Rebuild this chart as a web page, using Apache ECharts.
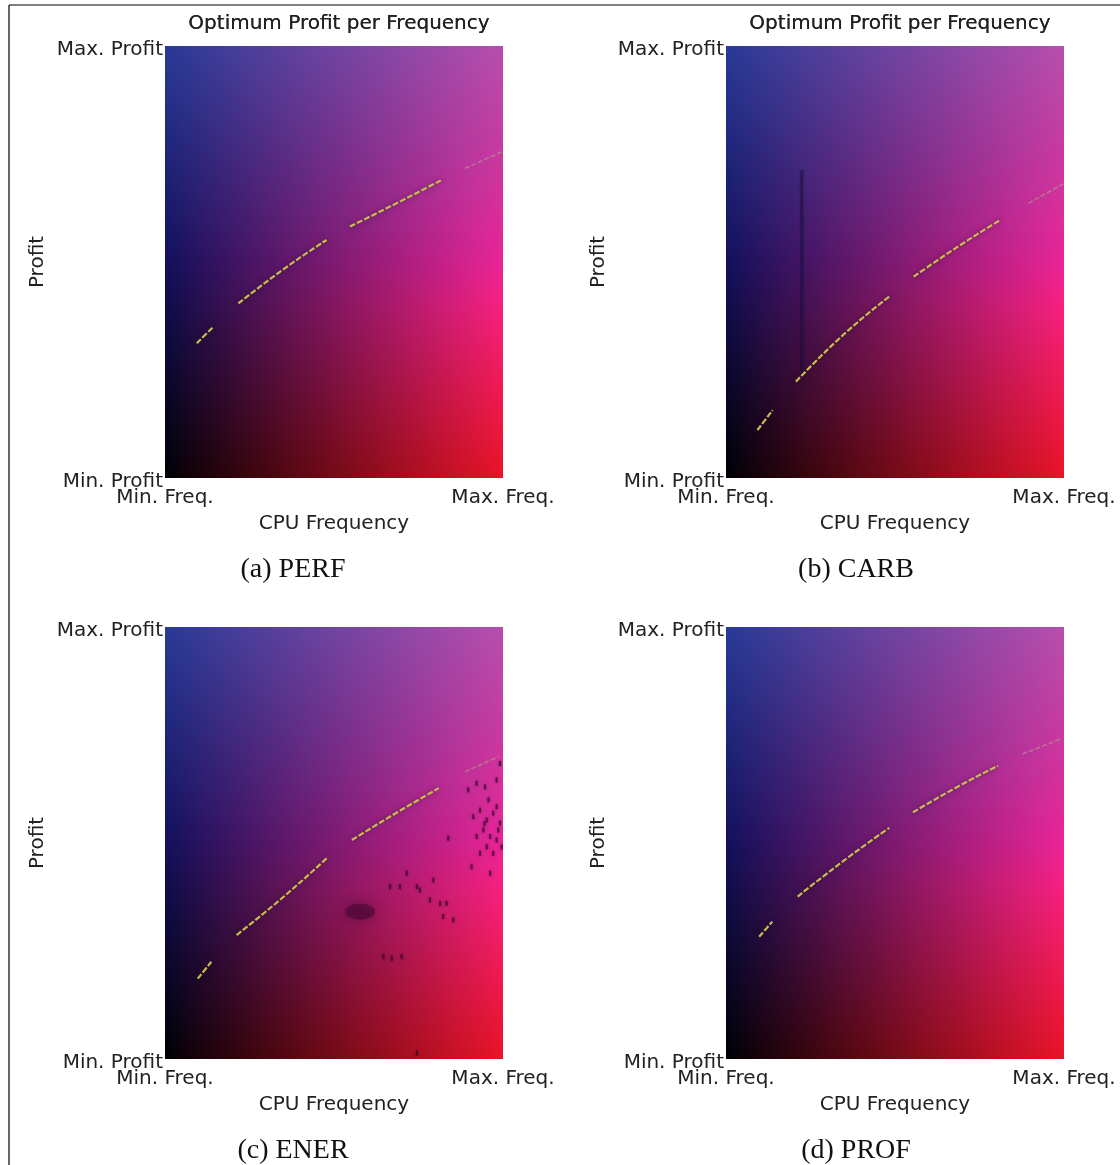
<!DOCTYPE html>
<html><head><meta charset="utf-8">
<script src="https://cdn.jsdelivr.net/npm/echarts@6/dist/echarts.min.js"></script>
<style>html,body{margin:0;padding:0;background:#fff}#c{width:1120px;height:1165px}</style>
</head><body><div id="c"></div>
<script>
// ---------- data ----------
const panelTitle = 'Optimum Profit per Frequency';
const captions = ['(a) PERF', '(b) CARB', '(c) ENER', '(d) PROF'];
const xTickLabels = ['Min. Freq.', 'Max. Freq.'];
const yTickLabels = ['Min. Profit', 'Max. Profit'];
const xAxisName = 'CPU Frequency';
const yAxisName = 'Profit';
const axisRange = [0, 1];

// optimum-profit curve per panel: visible segments ([freq, profit], normalised); last segment is faint
const perfSegments = [
  [[0.094, 0.312], [0.143, 0.350]],
  [[0.217, 0.404], [0.350, 0.483], [0.478, 0.551]],
  [[0.547, 0.582], [0.685, 0.636], [0.819, 0.690]],
  [[0.888, 0.717], [0.996, 0.755]]
];
const carbSegments = [
  [[0.093, 0.111], [0.138, 0.157]],
  [[0.207, 0.223], [0.345, 0.330], [0.483, 0.420]],
  [[0.555, 0.466], [0.685, 0.535], [0.811, 0.597]],
  [[0.895, 0.636], [1.000, 0.682]]
];
const enerSegments = [
  [[0.097, 0.186], [0.137, 0.225]],
  [[0.212, 0.287], [0.350, 0.375], [0.483, 0.468]],
  [[0.553, 0.507], [0.685, 0.570], [0.810, 0.627]],
  [[0.888, 0.665], [0.986, 0.700]]
];
const profSegments = [
  [[0.098, 0.283], [0.137, 0.318]],
  [[0.212, 0.376], [0.350, 0.460], [0.483, 0.535]],
  [[0.553, 0.571], [0.680, 0.628], [0.805, 0.679]],
  [[0.877, 0.706], [0.991, 0.741]]
];
// CARB: dark vertical streak
const carbStreak = [[0.224, 0.234], [0.224, 0.713]];
// ENER: dark speckles and blob
const enerSpeckles = [
  [0.897, 0.623], [0.922, 0.638], [0.947, 0.630], [0.991, 0.684], [0.981, 0.646],
  [0.912, 0.561], [0.932, 0.576], [0.952, 0.553], [0.971, 0.569], [0.991, 0.546],
  [0.942, 0.530], [0.962, 0.515], [0.981, 0.507], [0.996, 0.491], [0.922, 0.515],
  [0.952, 0.491], [0.932, 0.476], [0.971, 0.476], [0.907, 0.445], [0.962, 0.430],
  [0.981, 0.584], [0.838, 0.511], [0.957, 0.600], [0.986, 0.530], [0.945, 0.545],
  [0.666, 0.399], [0.695, 0.399], [0.745, 0.399], [0.754, 0.391], [0.715, 0.430],
  [0.784, 0.368], [0.814, 0.360], [0.833, 0.360], [0.823, 0.330], [0.853, 0.322],
  [0.794, 0.414], [0.646, 0.237], [0.671, 0.233], [0.700, 0.237], [0.745, 0.014]
];
const enerBlob = [[0.577, 0.341]];

const panelSegments = [perfSegments, carbSegments, enerSegments, profSegments];

// ---------- layout / style ----------
const grids = [
  {left: 165, top: 46, width: 338, height: 432},
  {left: 726, top: 46, width: 338, height: 432},
  {left: 165, top: 627, width: 338, height: 432},
  {left: 726, top: 627, width: 338, height: 432}
];
const captionPos = [[288, 551], [851, 551], [288, 1132], [851, 1132]];
const SANS = 'DejaVu Sans';
const TXT = '#222';

const lin = (x2, y2, stops) => ({type: 'linear', x: 0, y: 0, x2: x2, y2: y2,
  colorStops: stops.map(s => ({offset: s[0], color: s[1]}))});
// colour-field layers (drawn over the full axis extent), each with its own blend mode
const bgLayers = [
  {blend: null, fill: lin(1, 0, [[0, 'rgb(0,0,0)'], [1, 'rgb(232,20,32)']])},
  {blend: 'multiply', fill: lin(0, 1, [[0, 'rgb(158,255,170)'], [0.25, 'rgb(190,255,215)'],
    [0.5, 'rgb(237,255,250)'], [0.6, 'rgb(255,255,255)'], [1, 'rgb(255,255,255)']])},
  {blend: 'lighter', fill: lin(0, 1, [[0, 'rgb(40,58,150)'], [0.5, 'rgb(18,16,92)'], [1, 'rgb(0,0,5)']])},
  {blend: 'lighter', fill: {type: 'radial', x: 1, y: 0.5, r: 0.9,
    colorStops: [{offset: 0, color: 'rgba(0,0,28,1)'}, {offset: 1, color: 'rgba(0,0,0,0)'}]}}
];

function makeBgRender(fill) {
  return function (params, api) {
    const p0 = api.coord([api.value(0), api.value(1)]);
    const p1 = api.coord([api.value(2), api.value(3)]);
    return {type: 'rect', shape: {x: p0[0], y: p1[1], width: p1[0] - p0[0], height: p0[1] - p1[1]},
      style: {fill: fill}};
  };
}

const title = [];
const xAxis = [];
const yAxis = [];
const series = [];

grids.forEach((g, i) => {
  title.push({text: panelTitle, left: g.left + g.width / 2, top: 9, textAlign: 'center',
    textStyle: {fontFamily: SANS, fontSize: 20, fontWeight: 'normal', color: TXT}});
  title.push({text: captions[i], left: captionPos[i][0], top: captionPos[i][1], textAlign: 'center',
    textStyle: {fontFamily: 'Liberation Serif', fontSize: 28, fontWeight: 'normal', color: '#111'}});
  xAxis.push({type: 'value', gridIndex: i, min: axisRange[0], max: axisRange[1], interval: 1,
    name: xAxisName, nameLocation: 'middle', nameGap: 36,
    nameTextStyle: {fontFamily: SANS, fontSize: 20, color: TXT},
    axisLine: {show: false}, axisTick: {show: false}, splitLine: {show: false},
    axisLabel: {fontFamily: SANS, fontSize: 20, color: TXT, margin: 10,
      formatter: v => (v <= axisRange[0] ? xTickLabels[0] : xTickLabels[1])}});
  yAxis.push({type: 'value', gridIndex: i, min: axisRange[0], max: axisRange[1], interval: 1,
    name: yAxisName, nameLocation: 'middle', nameGap: 117,
    nameTextStyle: {fontFamily: SANS, fontSize: 20, color: TXT},
    axisLine: {show: false}, axisTick: {show: false}, splitLine: {show: false},
    axisLabel: {margin: 2,
      formatter: v => '{t|' + (v <= axisRange[0] ? yTickLabels[0] : yTickLabels[1]) + '}',
      rich: {t: {fontFamily: SANS, fontSize: 20, color: TXT, padding: [8, 0, 0, 0]}}}});
  bgLayers.forEach(layer => {
    const s = {type: 'custom', xAxisIndex: i, yAxisIndex: i, z: 1, silent: true, clip: true,
      renderItem: makeBgRender(layer.fill),
      data: [[axisRange[0], axisRange[0], axisRange[1], axisRange[1]]]};
    if (layer.blend) s.blendMode = layer.blend;
    series.push(s);
  });
  const segs = panelSegments[i];
  segs.forEach((seg, k) => {
    const faint = k === segs.length - 1;
    series.push({type: 'line', xAxisIndex: i, yAxisIndex: i, z: 4, silent: true, showSymbol: false,
      smooth: true, data: seg,
      lineStyle: faint
        ? {color: 'rgba(175,150,150,0.65)', width: 1.6, type: [5, 2]}
        : {color: '#c6bd4a', width: 2.2, type: [6, 2], shadowColor: 'rgba(30,0,50,0.55)', shadowBlur: 5}});
  });
});

// CARB streak
series.push({type: 'line', xAxisIndex: 1, yAxisIndex: 1, z: 3, silent: true, showSymbol: false,
  data: carbStreak, lineStyle: {color: 'rgba(20,15,60,0.45)', width: 3, shadowColor: 'rgba(20,15,60,0.6)', shadowBlur: 3}});
// ENER speckles
series.push({type: 'scatter', xAxisIndex: 2, yAxisIndex: 2, z: 3, silent: true, symbol: 'rect',
  symbolSize: [2, 5], data: enerSpeckles,
  itemStyle: {color: 'rgba(45,5,40,0.85)', shadowColor: 'rgba(45,5,40,0.7)', shadowBlur: 3}});
series.push({type: 'scatter', xAxisIndex: 2, yAxisIndex: 2, z: 3, silent: true, symbol: 'circle',
  symbolSize: [30, 16], data: enerBlob,
  itemStyle: {color: 'rgba(50,5,40,0.55)', shadowColor: 'rgba(50,5,40,0.9)', shadowBlur: 12}});

const chart = echarts.init(document.getElementById('c'), null, {renderer: 'canvas'});
chart.setOption({
  animation: false,
  backgroundColor: '#fff',
  title: title,
  grid: grids.map(g => Object.assign({containLabel: false}, g)),
  xAxis: xAxis,
  yAxis: yAxis,
  series: series,
  graphic: [
    {type: 'line', shape: {x1: 9, y1: 5, x2: 1120, y2: 5}, style: {stroke: '#555', lineWidth: 1.5}, silent: true},
    {type: 'line', shape: {x1: 9, y1: 5, x2: 9, y2: 1165}, style: {stroke: '#333', lineWidth: 1.5}, silent: true}
  ]
});
</script>
</body></html>
